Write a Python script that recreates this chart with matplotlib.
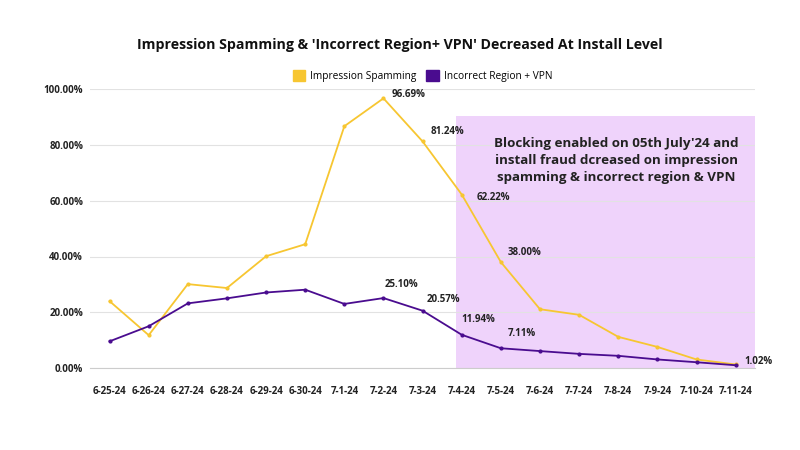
import matplotlib.pyplot as plt
from matplotlib.patches import Rectangle, Patch

plt.rcParams['font.family'] = ['Open Sans', 'DejaVu Sans']

dates = ['6-25-24', '6-26-24', '6-27-24', '6-28-24', '6-29-24', '6-30-24', '7-1-24', '7-2-24',
         '7-3-24', '7-4-24', '7-5-24', '7-6-24', '7-7-24', '7-8-24', '7-9-24', '7-10-24', '7-11-24']
impression = [24.0, 11.8, 30.1, 28.7, 40.1, 44.4, 86.7, 96.69,
              81.24, 62.22, 38.00, 21.1, 19.1, 11.2, 7.6, 3.1, 1.3]
region_vpn = [9.6, 15.0, 23.2, 25.0, 27.1, 28.1, 23.0, 25.10,
              20.57, 11.94, 7.11, 6.1, 5.1, 4.4, 3.1, 2.1, 1.02]

# which points get a value label, and the label offset in points
imp_labels = {7: (6, -1), 8: (6, 3), 9: (11, -6), 10: (5, 3)}
vpn_labels = {7: (1, 6), 8: (3, 4), 9: (0, 7), 10: (5, 7), 16: (6, -1)}

yellow = '#F7C631'
purple = '#4A0C8F'

fig = plt.figure(figsize=(8, 4.5), dpi=100)
ax = fig.add_axes([0.1125, 0.182, 0.8315, 0.62])

x = list(range(len(dates)))

# shaded "blocking enabled" area
ax.add_patch(Rectangle((8.86, 0), 16.5 - 8.86, 90.4, facecolor='#EFD3FB', edgecolor='none', zorder=0))
ax.text(12.95, 74.3, "Blocking enabled on 05th July'24 and\ninstall fraud dcreased on impression\nspamming & incorrect region & VPN",
        ha='center', va='center', fontsize=9.6, fontweight='bold', color='#222222', linespacing=1.4, zorder=5)

ax.plot(x, impression, color=yellow, lw=1.3, marker='o', ms=2, zorder=3)
ax.plot(x, region_vpn, color=purple, lw=1.3, marker='o', ms=2, zorder=3)

for i, off in imp_labels.items():
    ax.annotate(f'{impression[i]:.2f}%', (x[i], impression[i]), xytext=off, textcoords='offset points',
                fontsize=7, fontweight='bold', color='#222222', va='bottom', ha='left')
for i, off in vpn_labels.items():
    ax.annotate(f'{region_vpn[i]:.2f}%', (x[i], region_vpn[i]), xytext=off, textcoords='offset points',
                fontsize=7, fontweight='bold', color='#222222', va='bottom', ha='left')

ax.set_xlim(-0.5, 16.5)
ax.set_ylim(0, 100)
ax.set_xticks(x)
ax.set_xticklabels(dates)
ax.set_yticks([0, 20, 40, 60, 80, 100])
ax.set_yticklabels([f'{v:.2f}%' for v in [0, 20, 40, 60, 80, 100]])
ax.tick_params(length=0, labelsize=7)
ax.tick_params(axis='x', pad=13)
ax.tick_params(axis='y', pad=5)
for lbl in ax.get_xticklabels() + ax.get_yticklabels():
    lbl.set_fontweight('bold')
    lbl.set_color('#222222')
ax.grid(axis='y', color='#e2e2e2', lw=0.8, zorder=1)
ax.set_axisbelow(True)
for s in ['top', 'right', 'left']:
    ax.spines[s].set_visible(False)
ax.spines['bottom'].set_color('#cccccc')

fig.text(0.5, 0.9, "Impression Spamming & 'Incorrect Region+ VPN' Decreased At Install Level",
         ha='center', va='center', fontsize=10.2, fontweight='bold', color='#111111')
fig.legend(handles=[Patch(color=yellow, label='Impression Spamming'), Patch(color=purple, label='Incorrect Region + VPN')],
           loc='center', bbox_to_anchor=(0.528, 0.831), ncol=2, frameon=False, fontsize=7.3,
           handlelength=1.2, handleheight=1.2, columnspacing=1.0, handletextpad=0.5)

fig.savefig('out.png', dpi=100)
